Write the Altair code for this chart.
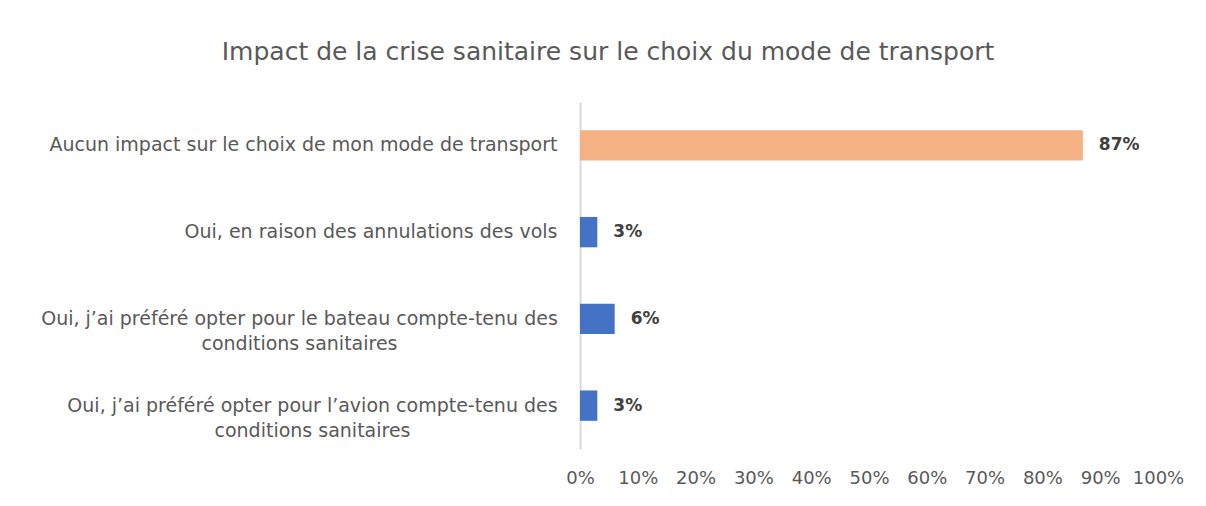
import altair as alt
import pandas as pd

categories = [
    "Aucun impact sur le choix de mon mode de transport",
    "Oui, en raison des annulations des vols",
    "Oui, j’ai préféré opter pour le bateau compte-tenu des\nconditions sanitaires",
    "Oui, j’ai préféré opter pour l’avion compte-tenu des\nconditions sanitaires",
]
values = [0.87, 0.03, 0.06, 0.03]
groups = ["Aucun impact", "Oui", "Oui", "Oui"]
x_ticks = [0, 0.1, 0.2, 0.3, 0.4, 0.5, 0.6, 0.7, 0.8, 0.9, 1.0]

df = pd.DataFrame({"categorie": categories, "valeur": values, "groupe": groups})

FONT = "DejaVu Sans"
GRAY = "#595959"

# two-line labels are centred on their first line, as in the original
label_align = {
    "condition": {"test": "indexof(datum.label, '\\n') >= 0", "value": "center"},
    "value": "right",
}
label_padding = {
    "condition": [
        {"test": "indexof(datum.label, 'bateau') >= 0", "value": 281},
        {"test": "indexof(datum.label, 'avion') >= 0", "value": 268},
    ],
    "value": 23,
}

y_enc = alt.Y(
    "categorie:N",
    sort=None,
    title=None,
    scale=alt.Scale(paddingInner=0.65, paddingOuter=0.325),
    axis=alt.Axis(
        labelExpr="split(datum.label, '\\n')",
        labelFontSize=19,
        labelColor=GRAY,
        labelFont=FONT,
        labelAlign=label_align,
        labelPadding=label_padding,
        labelLimit=600,
        labelLineHeight=25,
        ticks=False,
        domainColor="#d9d9d9",
        domainWidth=2,
        minExtent=572,
        maxExtent=572,
    ),
)

x_enc = alt.X(
    "valeur:Q",
    title=None,
    scale=alt.Scale(domain=[0, 1]),
    axis=alt.Axis(
        values=x_ticks,
        format=".0%",
        grid=False,
        domain=False,
        ticks=False,
        labelOverlap=False,
        labelFlush=False,
        labelFontSize=18,
        labelColor=GRAY,
        labelFont=FONT,
        labelPadding=20,
    ),
)

bars = alt.Chart(df).mark_bar().encode(
    y=y_enc,
    x=x_enc,
    color=alt.Color(
        "groupe:N",
        scale=alt.Scale(domain=["Aucun impact", "Oui"], range=["#F4B183", "#4472C4"]),
        legend=None,
    ),
)

labels = alt.Chart(df).mark_text(
    align="left", baseline="middle", dx=16, fontSize=17, fontWeight="bold",
    color="#404040", font=FONT,
).encode(
    y=alt.Y("categorie:N", sort=None),
    x="valeur:Q",
    text=alt.Text("valeur:Q", format=".0%"),
)

chart = (
    alt.layer(bars, labels)
    .properties(
        width=578,
        height=347,
        padding={"left": 0, "top": 32, "right": 5, "bottom": 5},
        title=alt.TitleParams(
            "Impact de la crise sanitaire sur le choix du mode de transport",
            fontSize=25,
            font=FONT,
            fontWeight="normal",
            color=GRAY,
            anchor="middle",
            dx=-261,
            offset=37,
        ),
    )
    .configure(background="white", view=alt.ViewConfig(strokeWidth=0, stroke="transparent"))
)

chart.save("out.html", embed_options={"renderer": "svg", "actions": False})
